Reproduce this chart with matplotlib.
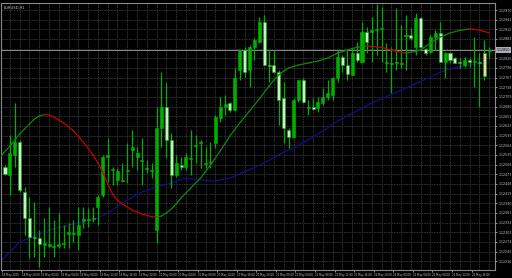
import matplotlib
matplotlib.use("Agg")
import matplotlib.pyplot as plt
import numpy as np
from matplotlib.collections import LineCollection

# ---- data (prices in points, 1 point = 0.00001) ----
opens = [112499,112475,112535,112574,112424,112346,112289,112286,112265,112262,
         112259,112262,112268,112298,112298,112295,112337,112340,112343,112379,
         112415,112529,112490,112460,112457,112487,112550,112529,112517,112493,
         112487,112310,112616,112679,112580,112475,112505,112499,112523,112562,
         112571,112508,112511,112571,112646,112679,112691,112670,112790,112850,
         112790,112859,112874,112934,112805,112805,112784,112706,112610,112589,
         112700,112760,112676,112679,112676,112691,112709,112715,112766,112829,
         112805,112775,112841,112814,112904,112904,112910,112913,112811,112808,
         112811,112808,112892,112895,112859,112946,112853,112844,112889,112901,
         112814,112841,112826,112814,112805,112820,112814,112814,112841,112847]
highs = [112505,112595,112691,112580,112439,112409,112394,112310,112346,112379,
         112340,112361,112325,112331,112340,112379,112379,112376,112379,112415,
         112535,112586,112499,112496,112511,112571,112610,112559,112586,112520,
         112511,112679,112784,112751,112601,112535,112529,112541,112610,112595,
         112580,112559,112574,112655,112709,112715,112694,112796,112850,112859,
         112865,112886,112949,112955,112850,112850,112790,112754,112616,112706,
         112760,112766,112700,112706,112709,112736,112760,112769,112850,112835,
         112850,112856,112874,112934,112919,112949,112988,112979,112871,112859,
         112976,112925,112955,112916,112961,112949,112856,112895,112910,112934,
         112844,112844,112829,112826,112829,112826,112889,112841,112880,112859]
lows = [112475,112415,112499,112424,112295,112226,112229,112199,112229,112259,
        112229,112256,112256,112256,112274,112250,112316,112319,112334,112325,
        112409,112454,112445,112445,112454,112451,112499,112490,112445,112481,
        112466,112271,112559,112526,112436,112469,112490,112490,112475,112511,
        112496,112496,112496,112556,112634,112655,112664,112670,112760,112769,
        112739,112820,112871,112805,112754,112781,112625,112571,112556,112586,
        112694,112691,112655,112670,112664,112685,112700,112700,112754,112784,
        112760,112775,112814,112811,112841,112814,112835,112814,112784,112721,
        112790,112796,112790,112880,112835,112856,112835,112841,112850,112814,
        112766,112811,112811,112796,112799,112799,112739,112679,112760,112826]
closes = [112478,112541,112574,112430,112346,112289,112286,112268,112271,112268,
          112262,112268,112271,112304,112301,112325,112343,112343,112346,112409,
          112529,112535,112493,112487,112460,112490,112559,112541,112520,112496,
          112490,112616,112679,112580,112475,112511,112499,112529,112526,112565,
          112574,112511,112514,112649,112679,112688,112670,112766,112850,112784,
          112859,112880,112934,112805,112802,112784,112700,112616,112589,112700,
          112760,112694,112679,112673,112694,112709,112721,112766,112829,112805,
          112778,112841,112820,112904,112874,112910,112913,112916,112814,112811,
          112814,112811,112895,112886,112946,112859,112841,112889,112901,112814,
          112841,112820,112811,112811,112820,112814,112817,112811,112772,112850]

# trend-coloured moving average (bar index, value in points)
fast_ma_idx = [-1, 1, 3, 5, 6, 7, 8, 9, 10, 12, 14, 16, 18, 19, 20, 21, 22, 23, 24,
               26, 28, 30, 31, 32, 33, 34, 35, 36, 37, 38, 40, 42, 44, 46, 48, 50,
               52, 54, 55, 56, 57, 58, 60, 62, 64, 66, 68, 70, 72, 74, 75, 77, 79,
               81, 82, 83, 85, 87, 89, 91, 93, 95, 96, 98, 99]
fast_ma = [112529, 112562, 112598, 112628, 112643, 112652, 112656, 112655, 112649,
           112631, 112607, 112574, 112535, 112511, 112484, 112448, 112418, 112400,
           112388, 112370, 112358, 112350, 112349, 112352, 112361, 112373, 112388,
           112406, 112421, 112436, 112466, 112505, 112547, 112592, 112631, 112667,
           112703, 112742, 112760, 112775, 112787, 112796, 112805, 112811, 112817,
           112826, 112841, 112850, 112858, 112862, 112861, 112858, 112850, 112843,
           112841, 112843, 112850, 112871, 112889, 112901, 112909, 112913, 112912,
           112906, 112901]

# slow moving average
slow_ma_idx = [-1, 3, 6, 9, 13, 18, 21, 24, 28, 31, 34, 37, 40, 43, 46, 49, 53, 57,
               59, 63, 66, 68, 75, 82, 87, 90, 93, 96, 99]
slow_ma = [112214, 112274, 112292, 112310, 112325, 112340, 112361, 112391, 112424,
           112439, 112451, 112466, 112460, 112457, 112466, 112484, 112511, 112544,
           112556, 112589, 112616, 112637, 112691, 112736, 112769, 112790, 112799,
           112808, 112811]

x_labels = ["18 May 2015", "18 May 20:00", "19 May 00:00", "19 May 04:00", "19 May 08:00",
            "19 May 12:00", "19 May 16:00", "19 May 20:00", "20 May 00:00", "20 May 04:00",
            "20 May 08:00", "20 May 12:00", "20 May 16:00", "20 May 20:00", "21 May 00:00",
            "21 May 04:00", "21 May 08:00", "21 May 12:00", "21 May 16:00", "21 May 20:00",
            "22 May 00:00", "22 May 04:00", "22 May 08:00", "22 May 12:00", "22 May 16:00"]
symbol_title = "EURUSD,H1"

# ---- drawing ----
PT = 1e-5
o = np.array(opens) * PT
h = np.array(highs) * PT
l = np.array(lows) * PT
c = np.array(closes) * PT
idx = np.arange(len(o))

fig = plt.figure(figsize=(5.12, 2.78), dpi=100, facecolor="black")
ax = fig.add_axes([1/512, 8/278, 494/512, 267/278], facecolor="black")

ymin, ymax = 1.12190, 1.12991
ax.set_xlim(-0.82, 100.2)
ax.set_ylim(ymin, ymax)

# grid
grid_c = "#363636"
for gx in np.arange(1, 101, 2):
    ax.axvline(gx, color=grid_c, lw=0.6, ls=(0, (2, 1)), zorder=0)
yt = np.arange(1.12970, ymin, -0.00029)
for gy in yt:
    ax.axhline(gy, color=grid_c, lw=0.6, ls=(0, (2, 1)), zorder=0)

# price line
ax.axhline(c[-1], color="#8a8a8a", lw=0.7, zorder=1)

# candles
bull_c, bear_c, last_c, wick_c = "#00b000", "#c8eec8", "#f2d2a8", "#00b000"
ax.vlines(idx, l, h, color=wick_c, lw=0.9, zorder=3)
body_bottom = np.minimum(o, c)
body_h = np.maximum(np.abs(c - o), 0.000012)
colors = [bull_c if cc >= oo else bear_c for oo, cc in zip(o, c)]
colors[-2] = last_c
ax.bar(idx, body_h, bottom=body_bottom, width=0.62, color=colors,
       edgecolor=wick_c, linewidth=0.4, zorder=4)

# slow MA
ax.plot(slow_ma_idx, np.array(slow_ma) * PT, color="#10108a", lw=0.9, zorder=2)

# fast MA coloured by slope
fx = np.array(fast_ma_idx, dtype=float)
fy = np.array(fast_ma) * PT
segs = [[(fx[i], fy[i]), (fx[i + 1], fy[i + 1])] for i in range(len(fx) - 1)]
segc = ["#0a8a0a" if fy[i + 1] >= fy[i] else "#c80000" for i in range(len(fx) - 1)]
ax.add_collection(LineCollection(segs, colors=segc, linewidths=0.9, zorder=5,
                                 capstyle="round", joinstyle="round"))

# axes styling
for s in ax.spines.values():
    s.set_color("#8a8a8a")
    s.set_linewidth(0.8)
ax.yaxis.tick_right()
ax.set_yticks(yt)
ylabels = ["" if abs(v - c[-1]) < 0.00018 else f"{v:.5f}" for v in yt]
ax.set_yticklabels(ylabels)
ax.tick_params(axis="y", colors="#c8c8c8", labelsize=2.3, length=1.5, pad=0.8, width=0.5)
xt = np.arange(len(x_labels)) * 4 - 0.6
ax.set_xticks(xt)
ax.set_xticklabels(x_labels, ha="left")
ax.tick_params(axis="x", colors="#c8c8c8", labelsize=1.9, length=1.5, pad=0.8, width=0.5)

# current price tag
ax.text(1.003, c[-1], f"{c[-1]:.5f}", transform=ax.get_yaxis_transform(),
        fontsize=2.3, color="black", va="center", ha="left", zorder=10,
        bbox=dict(boxstyle="square,pad=0.25", fc="#a8b0c0", ec="none"), clip_on=False)

fig.text(4/512, 1 - 8/278, symbol_title, color="#c8c8c8", fontsize=2.6, ha="left", va="center")

fig.savefig("out.png", dpi=100, facecolor="black")
